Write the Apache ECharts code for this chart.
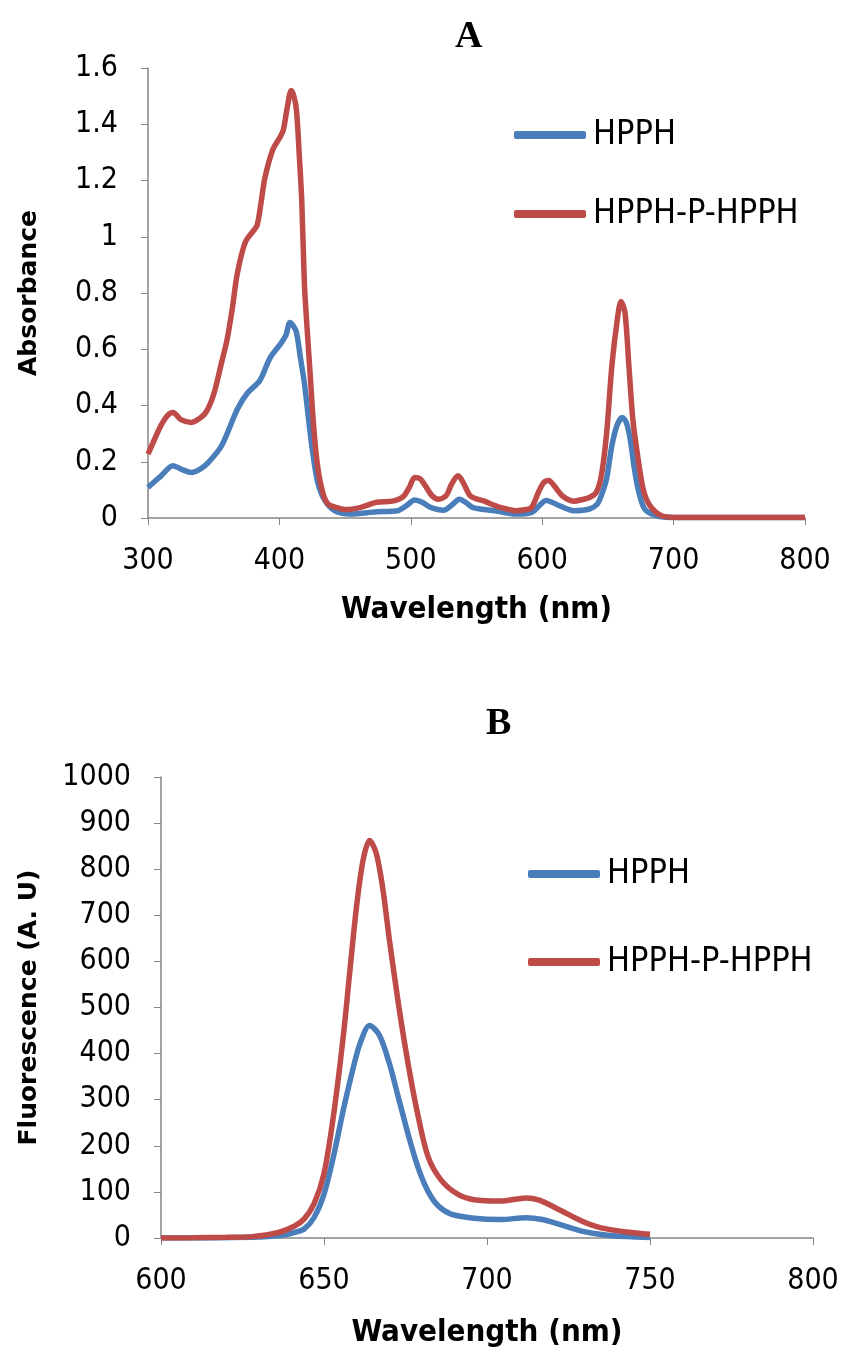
<!DOCTYPE html>
<html>
<head>
<meta charset="utf-8">
<script src="https://cdn.jsdelivr.net/npm/echarts@6/dist/echarts.min.js"></script>
<style>
  html, body { margin: 0; padding: 0; background: #fff; }
  #main { width: 843px; height: 1355px; }
</style>
</head>
<body>
<div id="main"></div>
<script>
// A: absorbance spectra
var absWlBlue = [300,310,319,326,333,340,346,356,368,376,385,393,401,405,408,411,413,416,419,422,425,429,434,442,454,474,490,497,503,509,515,525,531,537,542,547,556,564,580,592,598,603,608,613,624,636,642,645,649,653,657,661,664,667,670,673,678,687,700,750,800];
var absBlue   = [0.109,0.15,0.186,0.172,0.162,0.175,0.198,0.257,0.387,0.446,0.488,0.57,0.62,0.65,0.695,0.68,0.66,0.57,0.48,0.36,0.245,0.13,0.067,0.026,0.014,0.022,0.026,0.045,0.064,0.055,0.038,0.028,0.045,0.067,0.055,0.038,0.03,0.026,0.014,0.02,0.045,0.062,0.055,0.044,0.026,0.032,0.05,0.08,0.14,0.257,0.33,0.357,0.34,0.28,0.18,0.103,0.032,0.008,0.002,0.002,0.002];
var absWlRed = [300,305,310,315,319,325,333,338,344,350,356,360,364,368,374,380,383,386,389,395,400,403,406,409,411,413,415,417,419,421,423,426,429,433,437,445,450,462,474,486,494,499,503,507,511,516,521,527,531,536,540,545,550,556,562,568,580,588,592,597,601,605,609,615,620,624,630,636,641,645,649,653,657,660,663,666,669,673,677,682,691,704,750,800];
var absRed   = [0.227,0.28,0.33,0.365,0.375,0.35,0.34,0.35,0.375,0.44,0.553,0.63,0.74,0.87,0.98,1.02,1.04,1.12,1.21,1.31,1.35,1.38,1.46,1.52,1.5,1.45,1.3,1.13,0.835,0.68,0.54,0.33,0.186,0.09,0.05,0.035,0.03,0.038,0.056,0.06,0.075,0.11,0.144,0.14,0.115,0.08,0.067,0.08,0.12,0.15,0.125,0.08,0.068,0.06,0.048,0.038,0.026,0.03,0.038,0.09,0.125,0.133,0.115,0.08,0.065,0.06,0.065,0.073,0.09,0.15,0.3,0.54,0.7,0.77,0.73,0.54,0.35,0.21,0.1,0.044,0.008,0.002,0.002,0.002];

// B: fluorescence spectra
var fluWlBlue = [600,610,620,630,634,638,641,644,647,650,653,656,659,661,664,667,670,673,676,679,682,685,689,696,704,712,717,722,729,737,743,750];
var fluBlue   = [0,0,0.5,2,4,7,12,20,45,95,180,280,370,421,461,440,380,300,220,150,100,70,52,43,40,44,40,30,15,6,3,1];
var fluWlRed = [600,610,620,628,636,641,644,647,650,653,656,658,660,662,664,666,668,670,673,676,679,682,686,691,696,704,712,716,722,729,735,743,750];
var fluRed   = [0,0.5,1.5,3,12,26,42,75,140,270,443,584,720,820,862,835,760,650,500,370,260,175,125,95,83,80,87,82,62,37,22,13,8];

var seriesNames = ['HPPH', 'HPPH-P-HPPH'];
var blue = '#4a7ebb';
var red = '#be4b48';

function pairs(xs, ys) {
  return xs.map(function (x, i) { return [x, ys[i]]; });
}

var tickFont = "'Liberation Sans Narrow', 'DejaVu Sans Condensed', 'Liberation Sans', sans-serif";
var axisNameY = { fontFamily: "'DejaVu Sans', sans-serif", fontWeight: 'bold', fontSize: 25, color: '#000' };
var axisNameX = { fontFamily: tickFont, fontWeight: 'bold', fontSize: 31, color: '#000' };

function xAx(grid, min, max, step, gap) {
  return {
    type: 'value', gridIndex: grid, min: min, max: max, interval: step,
    name: 'Wavelength (nm)', nameLocation: 'middle', nameGap: gap, nameTextStyle: axisNameX,
    axisLine: { lineStyle: { color: '#868686', width: 1.5 } },
    axisTick: { inside: false, length: 7, lineStyle: { color: '#868686' } },
    axisLabel: { margin: 28, fontFamily: tickFont, fontSize: 30, color: '#000' },
    splitLine: { show: false }
  };
}
function yAx(grid, max, step, name, gap) {
  return {
    type: 'value', gridIndex: grid, min: 0, max: max, interval: step,
    name: name, nameLocation: 'middle', nameGap: gap, nameTextStyle: axisNameY,
    axisLine: { show: true, lineStyle: { color: '#868686', width: 1.5 } },
    axisTick: { show: true, inside: false, length: 7, lineStyle: { color: '#868686' } },
    axisLabel: { margin: 30, fontFamily: tickFont, fontSize: 30, color: '#000',
      formatter: function (v) { return String(+v.toFixed(1)); } },
    splitLine: { show: false }
  };
}
function line(name, color, xi, data) {
  return {
    name: name, type: 'line', xAxisIndex: xi, yAxisIndex: xi,
    data: data, smooth: 0.3, showSymbol: false, symbol: 'none',
    lineStyle: { color: color, width: 5.5 }, itemStyle: { color: color }
  };
}

var myChart = echarts.init(document.getElementById('main'));
var option = {
  backgroundColor: '#fff',
  animation: false,
  title: [
    { text: 'A', left: 450, top: 13, textStyle: { fontFamily: "'Liberation Serif', serif", fontWeight: 'bold', fontSize: 38, color: '#000' } },
    { text: 'B', left: 481, top: 700, textStyle: { fontFamily: "'Liberation Serif', serif", fontWeight: 'bold', fontSize: 38, color: '#000' } }
  ],
  legend: [
    { data: seriesNames, orient: 'vertical', left: 509, top: 113, itemWidth: 72, itemHeight: 8, itemGap: 45, icon: 'roundRect',
      textStyle: { fontFamily: tickFont, fontSize: 34, color: '#000', lineHeight: 30, padding: [0, 0, 0, 2] } },
    { data: seriesNames, orient: 'vertical', left: 523, top: 852, itemWidth: 72, itemHeight: 8, itemGap: 54, icon: 'roundRect',
      textStyle: { fontFamily: tickFont, fontSize: 34, color: '#000', lineHeight: 30, padding: [0, 0, 0, 2] } }
  ],
  grid: [
    { left: 148, width: 657, top: 68, height: 450 },
    { left: 161, width: 652, top: 777, height: 461 }
  ],
  xAxis: [xAx(0, 300, 800, 100, 76), xAx(1, 600, 800, 50, 79)],
  yAxis: [yAx(0, 1.6, 0.2, 'Absorbance', 106), yAx(1, 1000, 100, 'Fluorescence (A. U)', 119)],
  series: [
    line(seriesNames[0], blue, 0, pairs(absWlBlue, absBlue)),
    line(seriesNames[1], red, 0, pairs(absWlRed, absRed)),
    line(seriesNames[0], blue, 1, pairs(fluWlBlue, fluBlue)),
    line(seriesNames[1], red, 1, pairs(fluWlRed, fluRed))
  ]
};
myChart.setOption(option);
</script>
</body>
</html>
